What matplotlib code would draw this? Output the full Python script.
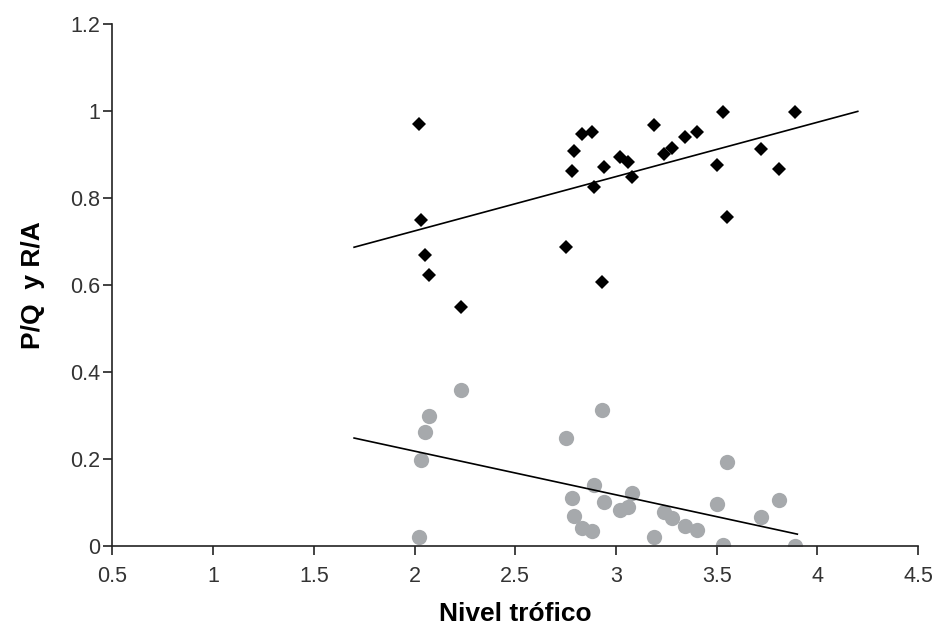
import numpy as np
import matplotlib
matplotlib.use('Agg')
import matplotlib.pyplot as plt

plt.rcParams['font.family'] = ['Liberation Sans', 'DejaVu Sans']

# nivel trofico de cada especie (compartido por ambas series)
nivel = [2.02, 2.03, 2.05, 2.07, 2.23, 2.75, 2.78, 2.79, 2.83, 2.88, 2.89, 2.93, 2.94,
         3.02, 3.06, 3.08, 3.19, 3.24, 3.28, 3.34, 3.40, 3.50, 3.53, 3.55, 3.72, 3.81, 3.89]
pq = [0.970, 0.749, 0.669, 0.623, 0.549, 0.687, 0.862, 0.908, 0.947, 0.952, 0.825, 0.607, 0.871,
      0.894, 0.883, 0.848, 0.968, 0.901, 0.915, 0.940, 0.952, 0.876, 0.998, 0.756, 0.913, 0.867, 0.998]
ra = [0.021, 0.198, 0.262, 0.299, 0.359, 0.248, 0.110, 0.069, 0.041, 0.034, 0.140, 0.313, 0.101,
      0.083, 0.090, 0.121, 0.021, 0.078, 0.064, 0.045, 0.037, 0.097, 0.002, 0.194, 0.067, 0.105, 0.0]

# rectas de tendencia (pendiente, ordenada, rango x)
pq_fit = (0.125, 0.4745, 1.7, 4.2)
ra_fit = (-0.1005, 0.419, 1.7, 3.9)

fig = plt.figure(figsize=(9.36, 6.37), dpi=100)
fig.subplots_adjust(left=0.12, right=0.981, bottom=0.143, top=0.962)
ax = fig.add_subplot()

ax.plot(nivel, ra, 'o', color='#a6a9ac', markersize=11, markeredgewidth=0, zorder=2)
ax.plot(nivel, pq, 'D', color='black', markersize=7.6, markeredgewidth=0, zorder=2)

for m, b, x0, x1 in (pq_fit, ra_fit):
    xs = np.array([x0, x1])
    ax.plot(xs, m * xs + b, color='black', linewidth=1.2, zorder=3)

ax.set_xlim(0.5, 4.5)
ax.set_ylim(0, 1.2)
ax.set_xticks(np.arange(0.5, 4.51, 0.5))
ax.set_xticklabels(['0.5', '1', '1.5', '2', '2.5', '3', '3.5', '4', '4.5'])
ax.set_yticks(np.arange(0, 1.21, 0.2))
ax.set_yticklabels(['0', '0.2', '0.4', '0.6', '0.8', '1', '1.2'])

for s in ['top', 'right']:
    ax.spines[s].set_visible(False)
for s in ['left', 'bottom']:
    ax.spines[s].set_color('#222222')
    ax.spines[s].set_linewidth(1.2)
ax.tick_params(direction='out', length=6.5, width=1.2, labelsize=15.5, labelcolor='#333333', color='#222222')
ax.tick_params(axis='x', pad=8)
ax.tick_params(axis='y', pad=2)

ax.set_xlabel('Nivel trófico', fontsize=19, fontweight='bold', labelpad=11)
ax.set_ylabel('P/Q  y R/A', fontsize=19, fontweight='bold', labelpad=18)

fig.savefig('out.png', dpi=100)
